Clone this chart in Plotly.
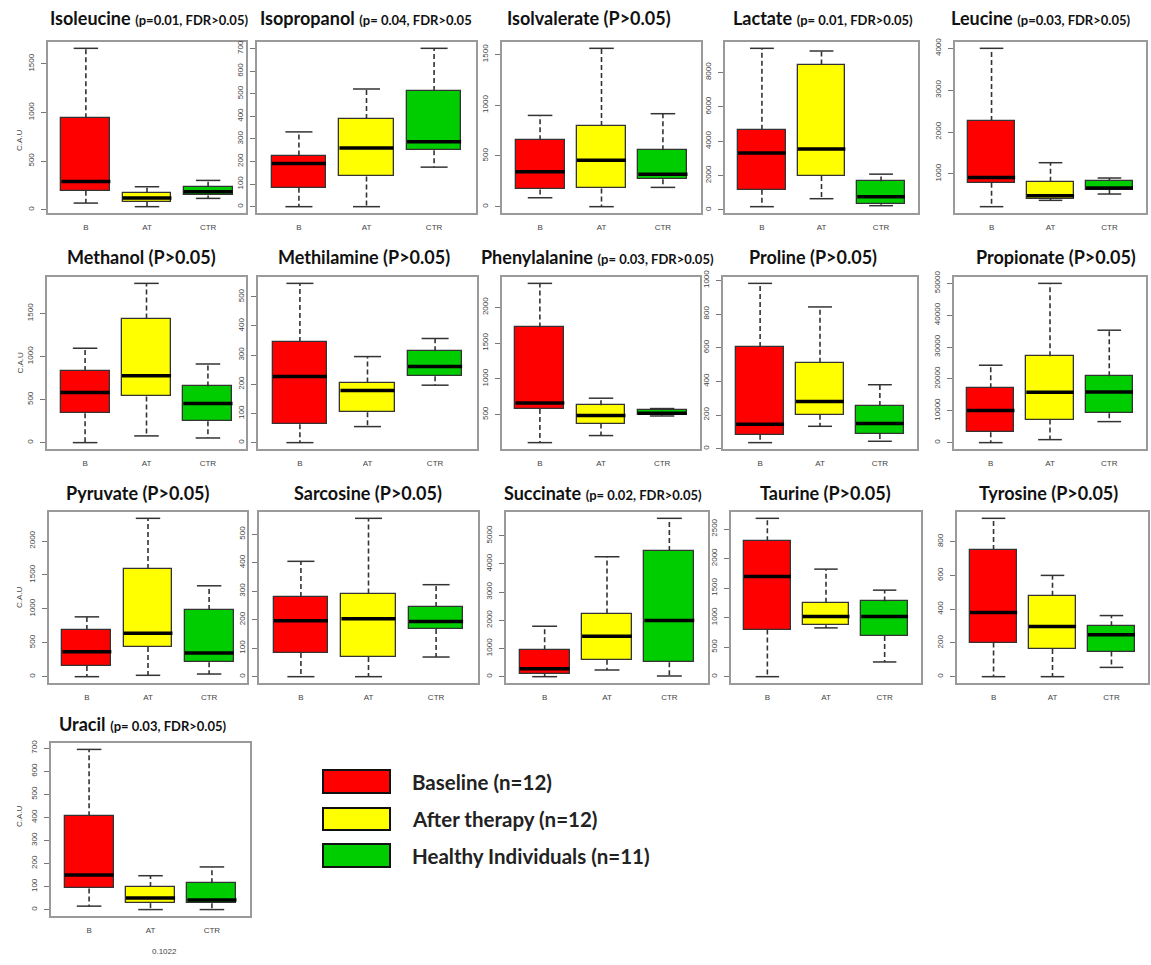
import plotly.graph_objects as go

W, H = 1151, 965

GROUPS = ["B", "AT", "CTR"]
COLORS = ["#FF0000", "#FFFF00", "#00CD00"]

# five-number summaries per group: [min, q1, median, q3, max] for B, AT, CTR
isoleucine = [[68, 195, 290, 940, 1660], [31, 79, 120, 174, 236], [116, 147, 185, 236, 301]]
isopropanol = [[0, 84, 191, 226, 331], [0, 134, 260, 388, 521], [175, 250, 287, 512, 701]]
isolvalerate = [[88, 170, 343, 654, 899], [0, 180, 458, 795, 1560], [190, 271, 320, 556, 916]]
lactate = [[193, 1177, 3320, 4670, 9400], [656, 1969, 3551, 8453, 9245], [250, 328, 772, 1660, 2084]]
leucine = [[215, 788, 915, 2260, 4000], [366, 406, 478, 812, 1266], [517, 613, 661, 828, 900]]
methanol = [[0, 342, 583, 831, 1096], [78, 536, 777, 1441, 1849], [54, 249, 455, 653, 913]]
methilamine = [[0, 63, 227, 345, 546], [55, 104, 179, 206, 295], [197, 228, 261, 313, 357]]
phenylalanine = [[107, 579, 663, 1719, 2336], [206, 374, 486, 631, 729], [480, 490, 519, 561, 584]]
proline = [[36, 83, 145, 604, 982], [133, 202, 281, 511, 842], [44, 87, 150, 253, 380]]
propionate = [[0, 3250, 10060, 17080, 24300], [940, 7230, 15820, 27140, 50000], [6600, 9220, 15930, 20850, 35300]]
pyruvate = [[0, 158, 369, 690, 882], [20, 438, 640, 1586, 2335], [39, 212, 350, 985, 1340]]
sarcosine = [[0, 83, 196, 280, 405], [0, 69, 203, 292, 556], [69, 167, 194, 245, 323]]
succinate = [[0, 107, 284, 936, 1789], [237, 604, 1434, 2240, 4254], [24, 510, 1991, 4456, 5617]]
taurine = [[0, 797, 1697, 2291, 2681], [826, 871, 1018, 1250, 1821], [249, 690, 1018, 1273, 1465]]
tyrosine = [[0, 202, 380, 750, 938], [0, 164, 297, 479, 600], [55, 149, 248, 299, 362]]
uracil = [[15, 92, 150, 405, 695], [0, 28, 50, 98, 147], [0, 28, 42, 114, 185]]

NAMES = ["Isoleucine", "Isopropanol", "Isolvalerate", "Lactate", "Leucine",
         "Methanol", "Methilamine", "Phenylalanine", "Proline", "Propionate",
         "Pyruvate", "Sarcosine", "Succinate", "Taurine", "Tyrosine", "Uracil"]
SUBTITLES = ["(p=0.01, FDR>0.05)", "(p= 0.04, FDR>0.05", None, "(p= 0.01, FDR>0.05)", "(p=0.03, FDR>0.05)",
             None, None, "(p= 0.03, FDR>0.05)", None, None,
             None, None, "(p= 0.02, FDR>0.05)", None, None, "(p= 0.03, FDR>0.05)"]
DATA = [isoleucine, isopropanol, isolvalerate, lactate, leucine,
        methanol, methilamine, phenylalanine, proline, propionate,
        pyruvate, sarcosine, succinate, taurine, tyrosine, uracil]
DTICKS = [500, 100, 500, 2000, 1000, 500, 100, 500, 200, 10000, 500, 100, 1000, 500, 200, 100]

# layout (pixels): panel boxes (left, top, right, bottom)
ROWS = [(42, 213), (277, 449), (512, 683), (743, 916)]
COLS = [[(48, 246), (257, 476), (502, 701), (725, 918), (955, 1146)],
        [(47, 246), (258, 477), (502, 700), (723, 917), (954, 1146)],
        [(49, 247), (259, 478), (506, 708), (731, 921), (957, 1148)],
        [(51, 250)]]
TITLE_X = [149, 366, 589, 823, 1040, 141, 364, 597, 813, 1056, 138, 368, 603, 825, 1048, 143]
TITLE_Y = [18, 257, 493, 724]

fig = go.Figure()
layout = {}
annotations = []
TICKFONT = dict(family="Liberation Sans, Arial", size=8, color="#444")

idx = 0
for r, (top, bot) in enumerate(ROWS):
    for c, (left, right) in enumerate(COLS[r]):
        stats = DATA[idx]
        n = idx + 1
        xs = "x" if n == 1 else f"x{n}"
        ys = "y" if n == 1 else f"y{n}"
        pos = [1, 2, 3]
        # boxes (q1..q3)
        fig.add_trace(go.Bar(
            x=pos, base=[s[1] for s in stats], y=[s[3] - s[1] for s in stats],
            width=0.8, marker=dict(color=COLORS, line=dict(color="#333", width=1.3)),
            xaxis=xs, yaxis=ys, showlegend=False, hoverinfo="skip"))
        # dashed whiskers
        wx, wy = [], []
        for p, s in zip(pos, stats):
            wx += [p, p, None, p, p, None]
            wy += [s[3], s[4], None, s[1], s[0], None]
        fig.add_trace(go.Scatter(x=wx, y=wy, mode="lines",
                                 line=dict(color="#333", width=1.6, dash="5px,3px"),
                                 xaxis=xs, yaxis=ys, showlegend=False, hoverinfo="skip"))
        # staples
        cx, cy = [], []
        for p, s in zip(pos, stats):
            cx += [p - 0.2, p + 0.2, None, p - 0.2, p + 0.2, None]
            cy += [s[4], s[4], None, s[0], s[0], None]
        fig.add_trace(go.Scatter(x=cx, y=cy, mode="lines", line=dict(color="#333", width=1.5),
                                 xaxis=xs, yaxis=ys, showlegend=False, hoverinfo="skip"))
        # medians
        mx, my = [], []
        for p, s in zip(pos, stats):
            mx += [p - 0.4, p + 0.4, None]
            my += [s[2], s[2], None]
        fig.add_trace(go.Scatter(x=mx, y=my, mode="lines", line=dict(color="#000", width=3.5),
                                 xaxis=xs, yaxis=ys, showlegend=False, hoverinfo="skip"))

        lo = min(s[0] for s in stats)
        hi = max(s[4] for s in stats)
        span = hi - lo
        xk = "xaxis" if n == 1 else f"xaxis{n}"
        yk = "yaxis" if n == 1 else f"yaxis{n}"
        layout[xk] = dict(domain=[left / W, right / W], anchor=ys, range=[0.38, 3.62],
                          tickvals=pos, ticktext=GROUPS, showline=True, mirror=True,
                          linecolor="#9a9a9a", linewidth=1.5, showgrid=False, zeroline=False,
                          ticks="", tickfont=TICKFONT, ticklabelstandoff=6, fixedrange=True,
                          automargin=False)
        layout[yk] = dict(domain=[1 - bot / H, 1 - top / H], anchor=xs,
                          range=[lo - 0.04 * span, hi + 0.04 * span], tick0=0, dtick=DTICKS[idx],
                          tickformat="d", tickangle=-90, ticks="outside", ticklen=5,
                          tickcolor="#777", tickwidth=1,
                          showline=True, mirror=True, linecolor="#9a9a9a", linewidth=1.5,
                          showgrid=False, zeroline=False, tickfont=TICKFONT,
                          ticklabelstandoff=4, fixedrange=True, automargin=False)

        if SUBTITLES[idx]:
            title = (f"<b>{NAMES[idx]}</b> "
                     f"<b><span style='font-size:13px'>{SUBTITLES[idx]}</span></b>")
        else:
            title = f"<b>{NAMES[idx]} (P&gt;0.05)</b>"
        annotations.append(dict(text=title, x=TITLE_X[idx] / W, y=1 - TITLE_Y[r] / H,
                                xref="paper", yref="paper", xanchor="center", yanchor="middle",
                                showarrow=False, font=dict(family="Lato", size=18, color="#111")))
        if c == 0:
            annotations.append(dict(text="C.A.U", x=13 / W, y=1 - (top + bot) / 2 / H,
                                    xref="paper", yref="paper", textangle=-90, showarrow=False,
                                    font=dict(family="Liberation Sans, Arial", size=8, color="#444")))
        idx += 1

annotations.append(dict(text="0.1022", x=150 / W, y=1 - 958 / H, xref="paper", yref="paper",
                        showarrow=False, font=dict(family="Liberation Sans, Arial", size=8, color="#444")))

LEGEND_LABELS = ["Baseline (n=12)", "After therapy (n=12)", "Healthy Individuals (n=11)"]
LEGEND_ROWS = [(770, 793), (808, 830), (844, 867)]
shapes = []
for lab, col, (t, b) in zip(LEGEND_LABELS, COLORS, LEGEND_ROWS):
    shapes.append(dict(type="rect", xref="paper", yref="paper", x0=323 / W, x1=390 / W,
                       y0=1 - b / H, y1=1 - t / H, fillcolor=col, line=dict(color="#111", width=2)))
    annotations.append(dict(text=f"<b>{lab}</b>", x=410 / W, y=1 - (t + b) / 2 / H,
                            xref="paper", yref="paper", xanchor="left", yanchor="middle",
                            showarrow=False, font=dict(family="Lato", size=20.5, color="#222")))

fig.update_layout(**layout)
fig.update_layout(width=W, height=H, margin=dict(l=0, r=0, t=0, b=0, pad=0, autoexpand=False),
                  paper_bgcolor="white", plot_bgcolor="white",
                  annotations=annotations, shapes=shapes, bargap=0)
fig.write_html("out.html", config={"displayModeBar": False},
               post_script="document.body.style.margin='0';document.body.style.padding='0';")
